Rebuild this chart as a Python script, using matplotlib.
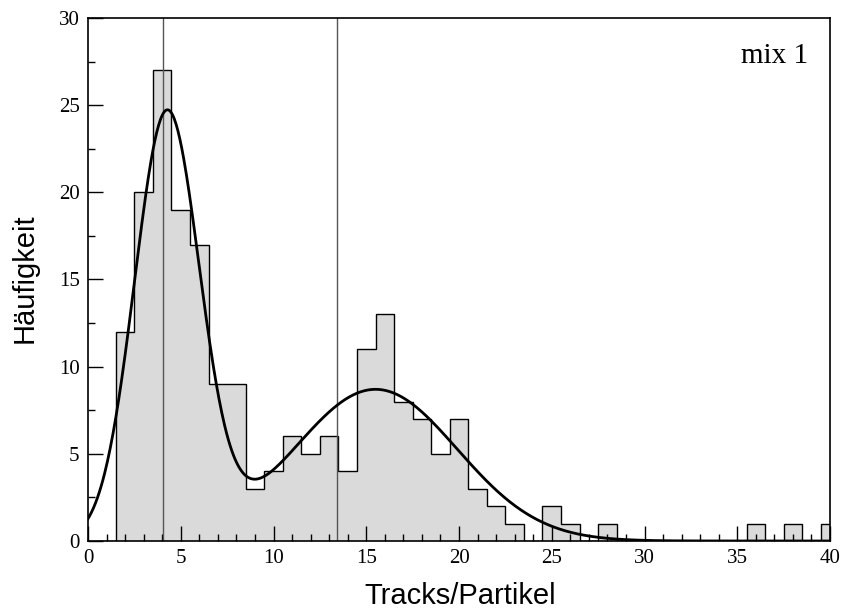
import numpy as np
import matplotlib
matplotlib.use("Agg")
import matplotlib.pyplot as plt

# Histogram data (bin centers 1..40, width 1)
bin_centers = list(range(1, 41))
counts = [0, 12, 20, 27, 19, 17, 9, 9, 3, 4,
          6, 5, 6, 4, 11, 13, 8, 7, 5, 7,
          3, 2, 1, 0, 2, 1, 0, 1, 0, 0,
          0, 0, 0, 0, 0, 1, 0, 1, 0, 1]

# Fit curve: two Gaussian components (amplitude, mean, sigma)
fit_amp = [24.4, 8.7]
fit_mean = [4.26, 15.5]
fit_sigma = [1.75, 4.4]

# Vertical marker lines
marker_x = [4.05, 13.42]

x_ticks = [0, 5, 10, 15, 20, 25, 30, 35, 40]
y_ticks = [0, 5, 10, 15, 20, 25, 30]

fig = plt.figure(figsize=(8.43, 6.14), dpi=100)
ax = fig.add_axes([88/843, 1-541/614, (830-88)/843, (541-18)/614])

edges = np.array(bin_centers, dtype=float) - 0.5
edges = np.append(edges, bin_centers[-1] + 0.5)
vals = np.array(counts, dtype=float)

ax.stairs(vals, edges, fill=True, facecolor="#dadada", edgecolor="none", baseline=0)
ax.stairs(vals, edges, fill=False, color="black", linewidth=1.0, baseline=0)

for mx in marker_x:
    ax.axvline(mx, color="#555555", linewidth=1.0)

xs = np.linspace(0, 40, 800)
ys = np.zeros_like(xs)
for a, m, s in zip(fit_amp, fit_mean, fit_sigma):
    ys += a * np.exp(-(xs - m) ** 2 / (2 * s ** 2))
ax.plot(xs, ys, color="black", linewidth=2.0)

ax.set_xlim(0, 40)
ax.set_ylim(0, 30)
ax.set_xticks(x_ticks)
ax.set_yticks(y_ticks)
ax.set_xticks(np.arange(0, 41, 1), minor=True)
ax.set_yticks(np.arange(0, 30.1, 2.5), minor=True)
ax.tick_params(which="major", direction="in", length=10.5, width=1.0, labelsize=15, pad=6)
ax.tick_params(which="minor", direction="in", length=5.2, width=1.0)
for lab in ax.get_xticklabels() + ax.get_yticklabels():
    lab.set_family("Liberation Serif")
for sp in ax.spines.values():
    sp.set_linewidth(1.2)

fig.text(460/843, 1-596/614, "Tracks/Partikel", fontsize=21, family="Liberation Sans",
         ha="center", va="center")
fig.text(25/843, 1-278/614, "Häufigkeit", fontsize=21, family="Liberation Sans",
         ha="center", va="center", rotation=90)

ax.text(0.970, (541-63)/523, "mix 1", transform=ax.transAxes, ha="right", va="baseline",
        fontsize=21, family="Liberation Serif")

fig.savefig("out.png", dpi=100)
